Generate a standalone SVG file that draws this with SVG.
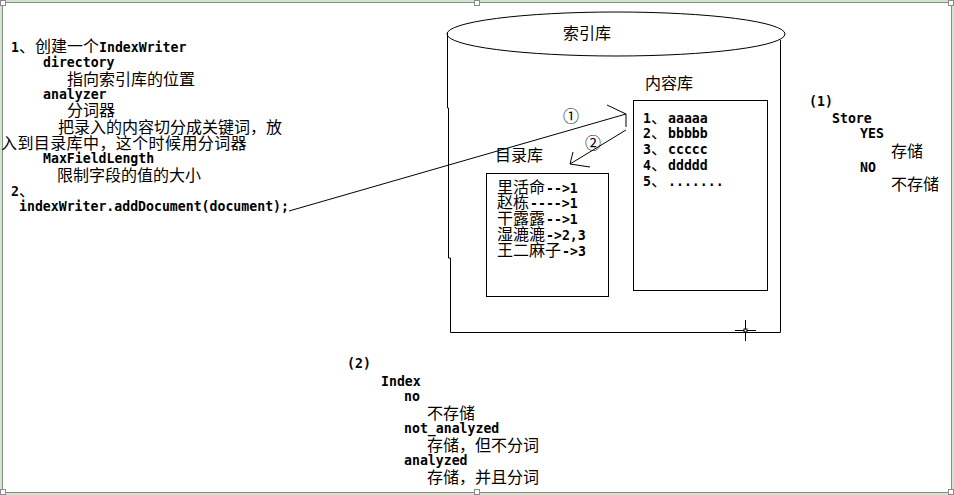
<svg xmlns="http://www.w3.org/2000/svg" width="954" height="495" viewBox="0 0 954 495">
<style>
.m{font-family:"DejaVu Sans Mono","Liberation Mono",monospace;font-weight:bold;font-size:13.2px;fill:#000}
.c{font-family:"Noto Sans CJK SC","Noto Sans",sans-serif;font-size:16px;fill:#000}
.ln{fill:none;stroke:#000;stroke-width:1}
.h{fill:#fff;stroke:#8a8a8a;stroke-width:1}
</style>
<g id="frame">
<rect x="0" y="0" width="954" height="495" fill="#cfe6cf"/>
<rect x="2.5" y="2.5" width="949" height="490" fill="#fff" stroke="#8a8a8a"/>
<rect class="h" x="0.5" y="0.5" width="5" height="5"/>
<rect class="h" x="474.5" y="0.5" width="5" height="5"/>
<rect class="h" x="948.5" y="0.5" width="5" height="5"/>
<rect class="h" x="0.5" y="489.5" width="5" height="5"/>
<rect class="h" x="474.5" y="489.5" width="5" height="5"/>
<rect class="h" x="948.5" y="489.5" width="5" height="5"/>
</g>
<g id="cylinder">
<ellipse class="ln" cx="616" cy="34" rx="169" ry="22"/>
<polyline class="ln" points="447.5,33 447.5,108 448.5,108 448.5,258 450.5,258 450.5,332.5 780.5,332.5 780.5,40"/>
<text class="c" x="563" y="39">索引库</text>
<g id="crosshair">
<line class="ln" x1="735" y1="330.5" x2="756" y2="330.5"/>
<line class="ln" x1="745.5" y1="320" x2="745.5" y2="341"/>
<rect x="744" y="329" width="3" height="3" fill="#fff" stroke="#000" stroke-width="1"/>
</g>
</g>
<g id="content-box">
<text class="c" x="645" y="89">内容库</text>
<rect class="ln" x="633.5" y="100.5" width="134" height="190"/>
<text y="123"><tspan class="m" x="643">1</tspan><tspan class="c" x="651">、</tspan><tspan class="m" x="668">aaaaa</tspan></text>
<text y="138"><tspan class="m" x="643">2</tspan><tspan class="c" x="651">、</tspan><tspan class="m" x="668">bbbbb</tspan></text>
<text y="154"><tspan class="m" x="643">3</tspan><tspan class="c" x="651">、</tspan><tspan class="m" x="668">ccccc</tspan></text>
<text y="170"><tspan class="m" x="643">4</tspan><tspan class="c" x="651">、</tspan><tspan class="m" x="668">ddddd</tspan></text>
<text y="186"><tspan class="m" x="643">5</tspan><tspan class="c" x="651">、</tspan><tspan class="m" x="668">.......</tspan></text>
</g>
<g id="directory-box">
<text class="c" x="495" y="161">目录库</text>
<rect class="ln" x="486.5" y="173.5" width="122" height="123"/>
<text y="193"><tspan class="c" x="497">里活命</tspan><tspan class="m" x="546">--&gt;1</tspan></text>
<text y="208"><tspan class="c" x="497">赵栋</tspan><tspan class="m" x="530">----&gt;1</tspan></text>
<text y="224"><tspan class="c" x="497">干露露</tspan><tspan class="m" x="546">--&gt;1</tspan></text>
<text y="240"><tspan class="c" x="497">湿漉漉</tspan><tspan class="m" x="546">-&gt;2,3</tspan></text>
<text y="256"><tspan class="c" x="497">王二麻子</tspan><tspan class="m" x="562">-&gt;3</tspan></text>
</g>
<g id="notes-left">
<text y="52"><tspan class="m" x="11">1</tspan><tspan class="c" x="19">、创建一个</tspan><tspan class="m" x="99">IndexWriter</tspan></text>
<text class="m" x="43" y="67">directory</text>
<text class="c" x="67" y="85">指向索引库的位置</text>
<text class="m" x="43" y="99">analyzer</text>
<text class="c" x="67" y="116">分词器</text>
<text class="c" x="58" y="133">把录入的内容切分成关键词，放</text>
<text class="c" x="1" y="149" letter-spacing="0.4">入到目录库中，这个时候用分词器</text>
<text class="m" x="43" y="163">MaxFieldLength</text>
<text class="c" x="57" y="181">限制字段的值的大小</text>
<text y="196"><tspan class="m" x="11">2</tspan><tspan class="c" x="19">、</tspan></text>
<text class="m" x="19" y="211">indexWriter.addDocument(document);</text>
</g>
<g id="notes-store">
<text class="m" x="809" y="106">(1)</text>
<text class="m" x="832" y="123">Store</text>
<text class="m" x="860" y="138">YES</text>
<text class="c" x="891" y="157">存储</text>
<text class="m" x="860" y="172">NO</text>
<text class="c" x="891" y="190">不存储</text>
</g>
<g id="notes-index">
<text class="m" x="347" y="368">(2)</text>
<text class="m" x="381" y="386">Index</text>
<text class="m" x="404" y="401">no</text>
<text class="c" x="427" y="419">不存储</text>
<text class="m" x="404" y="433">not_analyzed</text>
<text class="c" x="427" y="451">存储，但不分词</text>
<text class="m" x="404" y="465">analyzed</text>
<text class="c" x="427" y="483">存储，并且分词</text>
</g>
<g id="connectors">
<line class="ln" x1="289" y1="211" x2="626" y2="114"/>
<polyline class="ln" points="607,105 626,114 626,127"/>
<text class="c" x="563" y="122" font-size="13px">①</text>
<line class="ln" x1="626" y1="130" x2="570" y2="164"/>
<polyline class="ln" points="573,152 570,164 590,167"/>
<text class="c" x="585" y="149" font-size="13px">②</text>
</g>
</svg>
